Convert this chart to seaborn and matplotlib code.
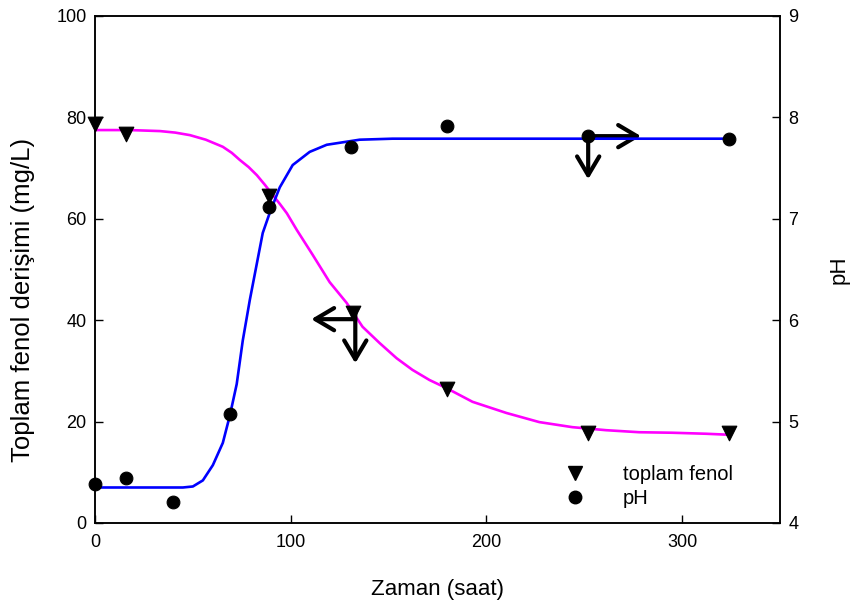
import matplotlib
matplotlib.use("Agg")
import matplotlib.pyplot as plt
import seaborn as sns
import pandas as pd
from matplotlib.lines import Line2D

# Measured points
fenol_time = [0, 16, 89, 132, 180, 252, 324]
fenol_conc = [78.7, 76.7, 64.5, 41.4, 26.4, 17.8, 17.7]

ph_time = [0, 16, 40, 69, 89, 131, 180, 252, 324]
ph_value = [4.38, 4.44, 4.21, 5.07, 7.12, 7.71, 7.92, 7.82, 7.79]

# Fitted sigmoid curves (sampled)
fenol_fit_time = [0, 17.9, 33.2, 41.0, 48.5, 56.6, 65.3, 69.9, 74.0, 78.5, 82.7,
                  86.8, 90.8, 94.5, 98.0, 103.1, 111.2, 119.9, 128.6, 136.7, 145.4,
                  154.1, 162.2, 170.9, 179.6, 192.9, 210.2, 227.0, 243.9, 261.2,
                  278.1, 294.9, 312.2, 324.0]
fenol_fit_conc = [77.5, 77.5, 77.3, 77.0, 76.5, 75.6, 74.2, 73.0, 71.6, 70.2, 68.6,
                  66.7, 64.7, 62.9, 61.1, 57.8, 52.9, 47.5, 43.4, 38.7, 35.5,
                  32.5, 30.2, 28.2, 26.6, 23.9, 21.7, 19.9, 18.9, 18.3,
                  17.9, 17.8, 17.6, 17.4]

ph_fit_time = [0, 28.1, 44.9, 50.0, 55.1, 60.2, 65.3, 68.9, 72.4, 75.5, 79.1,
               82.7, 85.7, 89.3, 94.4, 101.0, 109.7, 118.4, 135.2, 152.0, 186.2, 323.5]
ph_fit_value = [4.35, 4.35, 4.35, 4.36, 4.42, 4.57, 4.79, 5.06, 5.37, 5.80, 6.20,
                6.56, 6.86, 7.06, 7.31, 7.53, 7.66, 7.73, 7.78, 7.79, 7.79, 7.79]

left_ticks = [0, 20, 40, 60, 80, 100]
right_ticks = [4, 5, 6, 7, 8, 9]
x_ticks = [0, 100, 200, 300]

sns.set_style("ticks")
plt.rcParams["font.family"] = ["Liberation Sans", "DejaVu Sans"]
plt.rcParams["xtick.direction"] = "in"
plt.rcParams["ytick.direction"] = "in"
plt.rcParams["text.color"] = "black"
plt.rcParams["axes.labelcolor"] = "black"
plt.rcParams["xtick.color"] = "black"
plt.rcParams["ytick.color"] = "black"

fig = plt.figure(figsize=(8.5, 6.06), dpi=100)
ax = fig.add_axes([0.1118, 0.1370, 0.8058, 0.8366])
ax2 = ax.twinx()

fenol_fit = pd.DataFrame({"t": fenol_fit_time, "c": fenol_fit_conc})
ph_fit = pd.DataFrame({"t": ph_fit_time, "p": ph_fit_value})
fenol_df = pd.DataFrame({"t": fenol_time, "c": fenol_conc})
ph_df = pd.DataFrame({"t": ph_time, "p": ph_value})

sns.lineplot(data=fenol_fit, x="t", y="c", ax=ax, color="#ff00ff", lw=1.9,
             sort=False, zorder=2)
sns.lineplot(data=ph_fit, x="t", y="p", ax=ax2, color="#0000ff", lw=1.9,
             sort=False, zorder=2)
sns.scatterplot(data=fenol_df, x="t", y="c", ax=ax, marker="v", s=110,
                color="black", edgecolor="black", zorder=3, clip_on=False)
sns.scatterplot(data=ph_df, x="t", y="p", ax=ax2, marker="o", s=85,
                color="black", edgecolor="black", zorder=3, clip_on=False)

ax.set_xlim(0, 350)
ax.set_ylim(0, 100)
ax2.set_ylim(4, 9)
ax.set_xticks(x_ticks)
ax.set_yticks(left_ticks)
ax2.set_yticks(right_ticks)

ax.set_xlabel("Zaman (saat)", fontsize=16, labelpad=20)
ax.set_ylabel("Toplam fenol derişimi (mg/L)", fontsize=18.5)
ax.yaxis.set_label_coords(-0.088, 0.44)
ax2.set_ylabel("pH", fontsize=16, labelpad=22)

for a in (ax, ax2):
    a.tick_params(labelsize=13, length=6, width=1, color="black")
    for s in a.spines.values():
        s.set_linewidth(1.1)
        s.set_color("black")
ax.tick_params(axis="x", pad=8)
ax.tick_params(axis="y", pad=6)
ax2.tick_params(axis="y", pad=6)

# Direction arrows pointing at the relevant axis
arrow = dict(arrowstyle="->,head_length=1.35,head_width=0.8", lw=3,
             color="black", shrinkA=0, shrinkB=0)
ax.annotate("", xy=(110.5, 40.2), xytext=(133, 40.2), arrowprops=arrow)
ax.annotate("", xy=(133, 31.5), xytext=(133, 41.6), arrowprops=arrow)
ax.annotate("", xy=(279, 76.3), xytext=(252, 76.3), arrowprops=arrow)
ax.annotate("", xy=(252, 67.8), xytext=(252, 76.7), arrowprops=arrow)

handles = [
    Line2D([], [], marker="v", color="black", ls="none", markersize=10),
    Line2D([], [], marker="o", color="black", ls="none", markersize=9),
]
ax.legend(handles, ["toplam fenol", "pH"], loc="lower right",
          bbox_to_anchor=(0.958, -0.006), frameon=False, fontsize=14.5,
          handletextpad=1.4, labelspacing=0.25)

fig.savefig("out.png", dpi=100)
